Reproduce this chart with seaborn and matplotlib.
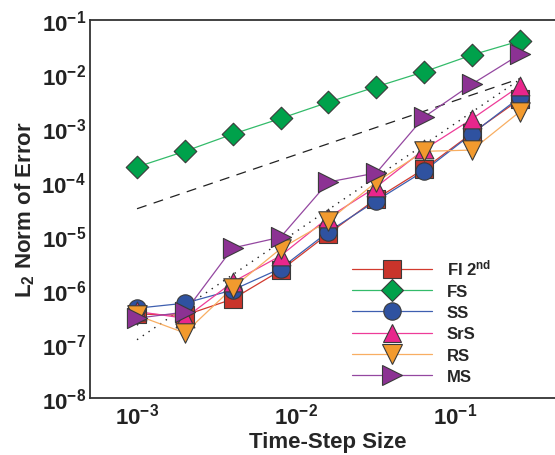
import numpy as np
import pandas as pd
import matplotlib
matplotlib.use("Agg")
import matplotlib.pyplot as plt
import seaborn as sns
from matplotlib.lines import Line2D
from matplotlib.ticker import FixedLocator, FuncFormatter, NullFormatter

# ---- data ----
dt = [1e-3, 2e-3, 4e-3, 8e-3, 1.6e-2, 3.2e-2, 6.4e-2, 0.128, 0.256]
fi2 = [3.6e-7, 3.4e-7, 6.8e-7, 2.3e-6, 1.1e-5, 4.9e-5, 1.75e-4, 8.0e-4, 3.4e-3]
fs = [1.9e-4, 3.7e-4, 7.7e-4, 1.5e-3, 3.0e-3, 5.8e-3, 1.1e-2, 2.25e-2, 4.1e-2]
ss = [4.6e-7, 5.7e-7, 1.0e-6, 2.5e-6, 1.2e-5, 4.5e-5, 1.6e-4, 7.8e-4, 3.7e-3]
srs = [4.0e-7, 3.0e-7, 1.4e-6, 4.3e-6, 2.2e-5, 8.1e-5, 4.0e-4, 1.47e-3, 6.0e-3]
rs = [3.4e-7, 1.6e-7, 1.1e-6, 5.8e-6, 1.9e-5, 1.0e-4, 3.7e-4, 3.9e-4, 2.0e-3]
ms = [3.0e-7, 3.9e-7, 6.0e-6, 9.5e-6, 1.0e-4, 1.47e-4, 1.6e-3, 6.5e-3, 2.3e-2]
labels = [r'FI 2$^{\mathbf{nd}}$', 'FS', 'SS', 'SrS', 'RS', 'MS']

ref_dt = [1e-3, 0.256]
ref_first = [3.2e-5, 8.2e-3]
ref_second = [1.2e-7, 7.9e-3]

x_major = [1e-3, 1e-2, 1e-1]
y_major = [1e-8, 1e-7, 1e-6, 1e-5, 1e-4, 1e-3, 1e-2, 1e-1]

# ---- style ----
sns.set_style("white")
plt.rcParams['font.family'] = ['Liberation Sans', 'DejaVu Sans']
plt.rcParams['font.weight'] = 'bold'
plt.rcParams['mathtext.fontset'] = 'custom'
plt.rcParams['mathtext.rm'] = 'Liberation Sans:bold'
plt.rcParams['mathtext.bf'] = 'Liberation Sans:bold'
plt.rcParams['mathtext.it'] = 'Liberation Sans:bold'

series = [fi2, fs, ss, srs, rs, ms]
face = ['#C9342B', '#00A14B', '#2F52A0', '#E9268C', '#F29A2E', '#8C3293']
linec = ['#D23A2E', '#33BB6A', '#3E5FB0', '#EE3C98', '#F8AE62', '#9447A0']
marks = ['s', 'D', 'o', '^', 'v', '>']
msz = [12.5, 11.5, 12.5, 13.5, 14.0, 14.5]
edge = '#3a3a3a'

fig = plt.figure(figsize=(5.55, 4.56), dpi=100)
ax = fig.add_axes([90/555, 1-399/456, (566-90)/555, (399-21)/456])

# reference slopes
sns.lineplot(x=ref_dt, y=ref_first, ax=ax, color='#222222', lw=0.9,
             linestyle=(0, (8, 6)), zorder=2)
sns.lineplot(x=ref_dt, y=ref_second, ax=ax, color='#222222', lw=1.0,
             linestyle=(0, (1, 4)), zorder=2)

for y, lc in zip(series, linec):
    sns.lineplot(x=dt, y=y, ax=ax, color=lc, lw=0.9, zorder=2)
for y, fc, mk, sz in zip(series, face, marks, msz):
    sns.scatterplot(x=dt, y=y, ax=ax, color=fc, marker=mk, s=sz**2,
                    edgecolor=edge, linewidth=0.8, zorder=3)

ax.set_xscale('log')
ax.set_yscale('log')
ax.set_xlim(5.06e-4, 0.5)
ax.set_ylim(1e-8, 1e-1)

x_minor = [m * d for d in [1e-4, 1e-3, 1e-2, 1e-1] for m in range(2, 10)
           if 5.06e-4 <= m * d <= 0.5]
y_minor = [m * d for d in [1e-8, 1e-7, 1e-6, 1e-5, 1e-4, 1e-3, 1e-2] for m in range(2, 10)]

fmt = FuncFormatter(lambda v, p: r'$\mathbf{10^{%d}}$' % int(round(np.log10(v))))
ax.xaxis.set_major_locator(FixedLocator(x_major))
ax.yaxis.set_major_locator(FixedLocator(y_major))
ax.xaxis.set_minor_locator(FixedLocator(x_minor))
ax.yaxis.set_minor_locator(FixedLocator(y_minor))
ax.xaxis.set_major_formatter(fmt)
ax.yaxis.set_major_formatter(fmt)
ax.xaxis.set_minor_formatter(NullFormatter())
ax.yaxis.set_minor_formatter(NullFormatter())
ax.tick_params(which='major', direction='in', length=6, width=1.0, colors='#222222',
               labelsize=16, pad=3, top=False, right=False)
ax.tick_params(which='minor', direction='in', length=3.5, width=0.8, colors='#222222',
               top=False, right=False)
ax.tick_params(axis='x', which='major', pad=3)

for s in ['left', 'bottom', 'top']:
    ax.spines[s].set_color('#333333')
    ax.spines[s].set_linewidth(1.3)
ax.spines['right'].set_visible(False)

ax.set_xlabel('Time-Step Size', fontsize=16, fontweight='bold', labelpad=2)
ax.set_ylabel(r'L$_{\mathbf{2}}$ Norm of Error', fontsize=16, fontweight='bold', labelpad=3)

handles = [Line2D([0], [0], color=lc, lw=0.9, marker=mk, markersize=sz,
                  markerfacecolor=fc, markeredgecolor=edge, markeredgewidth=0.8)
           for lc, fc, mk, sz in zip(linec, face, marks, msz)]
leg = ax.legend(handles, labels, loc='upper left',
                bbox_to_anchor=(352/555, 1-259/456), bbox_transform=fig.transFigure,
                frameon=False, fontsize=12, handlelength=4.8, handletextpad=0.9,
                labelspacing=0.37, borderpad=0, borderaxespad=0, numpoints=1)
for t in leg.get_texts():
    t.set_fontweight('bold')

fig.savefig('out.png', dpi=100)
